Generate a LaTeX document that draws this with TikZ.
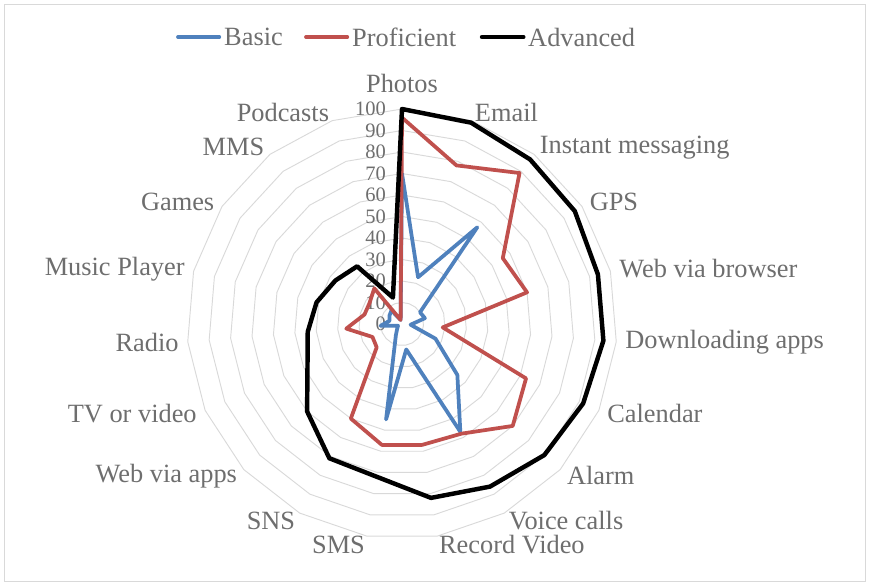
\documentclass[tikz,border=0pt]{standalone}
\usepackage{fontspec}
\setmainfont{Liberation Serif}
\usetikzlibrary{positioning}
\definecolor{basicblue}{HTML}{4F81BD}
\definecolor{profred}{HTML}{C0504D}
\definecolor{labelgray}{HTML}{6E6E6E}
\definecolor{ringgray}{HTML}{D9D9D9}
\newcommand{\Unit}{2.15}
\newcommand{\Step}{18.947368}
\begin{document}
\begin{tikzpicture}[
    x = 0.03cm, y = -0.03cm,
    ring/.style = {
      draw = ringgray, line width = 0.8pt
    },
    series/.style = {
      line width = 3.2pt, line join = round, line cap = round
    },
    axislabel/.style = {
      text = labelgray, inner sep = 0pt, font = \fontsize{22.5}{25}\selectfont
    },
    ticklabel/.style = {
      text = labelgray, inner sep = 0pt, anchor = east, font = \fontsize{17.5}{20}\selectfont
    },
    ]
\useasboundingbox (0,0) rectangle (869,585);
\draw  [ring]  (4,4) rectangle (865,581);

\begin{scope}[shift = {(402,324)}]
% grid rings
\foreach \v in {10,20,...,100}{
  \draw  [ring]  (-90:{\v*\Unit}) \foreach \k in {1,...,18}{ -- ({\k*\Step-90}:{\v*\Unit}) } -- cycle;
}
% value labels
\foreach \v in {0,10,...,100}{
  \node  [ticklabel]  (tick_\v)  at  (-16,{-\v*\Unit})  {\v};
}
% category labels
\foreach \name/\pos/\r [count = \k from 0] in {
    Photos/south/231, Email/west/224, Instant messaging/west/224, GPS/west/224,
    Web via browser/west/224, Downloading apps/west/224, Calendar/west/224,
    Alarm/west/224, Voice calls/west/224, Record Video/west/224, SMS/east/224,
    SNS/east/224, Web via apps/east/224, TV or video/east/224, Radio/east/224,
    Music Player/east/224, Games/east/224, MMS/east/224, Podcasts/east/224}{
  \node  [axislabel, anchor = \pos]  (cat_\k)  at  ({(\k-1)*\Step+\Step-90}:\r)  {\name};
}
% data points
\foreach \v [count = \k from 0] in {70,23,57,10,11,4,17,35,57,12,45,6,3,2,10,6,7,8,2}{
  \coordinate  (basic_\k)  at  ({\k*\Step-90}:{\v*\Unit});
}
\foreach \v [count = \k from 0] in {96,78,89,56,60,19,63,70,58,57,57,50,16,15,26,18,18,21,2}{
  \coordinate  (prof_\k)  at  ({\k*\Step-90}:{\v*\Unit});
}
\foreach \v [count = \k from 0] in {100,99,97,96,94,94,92,90,86,82,72,71,60,48,44,41,37,34,13}{
  \coordinate  (adv_\k)  at  ({\k*\Step-90}:{\v*\Unit});
}
\draw  [series, basicblue]  (basic_0) \foreach \k in {1,...,18}{ -- (basic_\k) } -- cycle;
\draw  [series, profred]  (prof_0) \foreach \k in {1,...,18}{ -- (prof_\k) } -- cycle;
\draw  [series, black, line width = 3.8pt]  (adv_0) \foreach \k in {1,...,18}{ -- (adv_\k) } -- cycle;
\end{scope}

% legend
\node  [axislabel, anchor = west]  (leg_basic)  at  (224,37)  {Basic};
\node  [axislabel, anchor = west]  (leg_prof)  at  (352,37)  {Proficient};
\node  [axislabel, anchor = west]  (leg_adv)  at  (528,37)  {Advanced};
\coordinate  (key_basic)  at  (178,37);
\coordinate  (key_prof)  at  (306,37);
\coordinate  (key_adv)  at  (482,37);
\draw  [series, basicblue]  (key_basic)  --  ([xshift = -4pt]leg_basic.west);
\draw  [series, profred]  (key_prof)  --  ([xshift = -4pt]leg_prof.west);
\draw  [series, black, line width = 3.8pt]  (key_adv)  --  ([xshift = -4pt]leg_adv.west);
\end{tikzpicture}
\end{document}
